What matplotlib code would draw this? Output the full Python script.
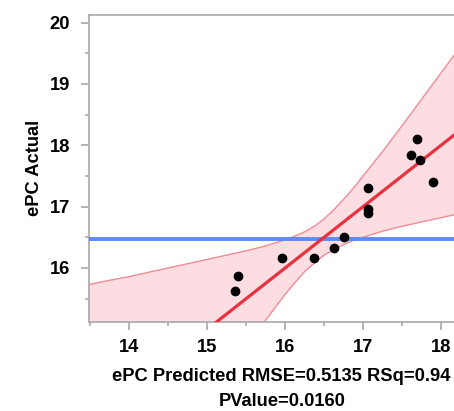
import numpy as np
import matplotlib
matplotlib.use("Agg")
import matplotlib.pyplot as plt
from matplotlib.ticker import MultipleLocator

plt.rcParams['font.family'] = ['Liberation Sans', 'DejaVu Sans']

# Predicted vs actual ePC values
predicted = [15.36, 15.39, 15.96, 16.37, 16.63, 16.75, 17.06, 17.06, 17.06,
             17.62, 17.69, 17.73, 17.90]
actual = [15.63, 15.87, 16.16, 16.16, 16.33, 16.51, 17.30, 16.96, 16.90,
          17.84, 18.11, 17.76, 17.40]

# Mean of the response and the fit line ends
mean_actual = 16.47
fit_x = [13.0, 18.5]
fit_y = [13.0, 18.5]

# Confidence band around the fit
band_x = [13.40, 13.75, 14.00, 14.25, 14.50, 14.75, 15.00, 15.25, 15.50, 15.75,
          15.875, 16.00, 16.125, 16.25, 16.375, 16.50, 16.625, 16.75, 16.875,
          17.00, 17.125, 17.25, 17.50, 17.75, 18.00, 18.25]
band_hi = [15.71, 15.80, 15.86, 15.93, 16.00, 16.07, 16.14, 16.21, 16.28, 16.36,
           16.41, 16.46, 16.52, 16.59, 16.68, 16.80, 16.95, 17.12, 17.30,
           17.50, 17.70, 17.90, 18.32, 18.75, 19.18, 19.61]
band_lo = [11.09, 11.70, 12.14, 12.57, 13.00, 13.43, 13.86, 14.29, 14.72, 15.15,
           15.36, 15.57, 15.76, 15.94, 16.08, 16.21, 16.30, 16.38, 16.45,
           16.50, 16.55, 16.60, 16.68, 16.75, 16.82, 16.89]

fig = plt.figure(figsize=(4.54, 4.11), dpi=100)
ax = fig.add_axes([0.1967, 0.2173, 0.8033, 0.7462])

ax.fill_between(band_x, band_lo, band_hi, color='#fcdde2', lw=0, zorder=1)
ax.plot(band_x, band_hi, color='#f08c96', lw=1.0, zorder=2)
ax.plot(band_x, band_lo, color='#f08c96', lw=1.0, zorder=2)
ax.axhline(mean_actual, color='#5b8cf0', lw=2.8, zorder=3)
ax.plot(fit_x, fit_y, color='#e8323f', lw=2.3, zorder=4)
ax.plot(predicted, actual, 'o', color='black', ms=6, zorder=5)

ax.set_xlim(13.487, 18.167)
ax.set_ylim(15.124, 20.125)

ax.xaxis.set_major_locator(MultipleLocator(1))
ax.xaxis.set_minor_locator(MultipleLocator(0.5))
ax.yaxis.set_major_locator(MultipleLocator(1))
ax.yaxis.set_minor_locator(MultipleLocator(0.5))

for side in ['left', 'top', 'bottom']:
    ax.spines[side].set_color('#a8a8a8')
    ax.spines[side].set_linewidth(1.2)
ax.spines['right'].set_visible(False)

ax.tick_params(which='major', length=5.8, width=1.2, color='#a8a8a8',
               labelsize=13.2, direction='out')
ax.tick_params(which='minor', length=2.9, width=1.2, color='#a8a8a8', direction='out')
ax.tick_params(axis='x', which='major', pad=7)
ax.tick_params(axis='y', which='major', pad=8)
for lab in ax.get_xticklabels() + ax.get_yticklabels():
    lab.set_fontweight('bold')

ax.set_ylabel('ePC Actual', fontsize=13.2, fontweight='bold')
ax.yaxis.set_label_coords(-0.128, 0.5)
ax.set_xlabel('ePC Predicted RMSE=0.5135 RSq=0.94\nPValue=0.0160',
              fontsize=13.2, fontweight='bold', linespacing=1.65)
ax.xaxis.set_label_coords(0.5276, -0.150)

fig.savefig('out.png', dpi=100)
